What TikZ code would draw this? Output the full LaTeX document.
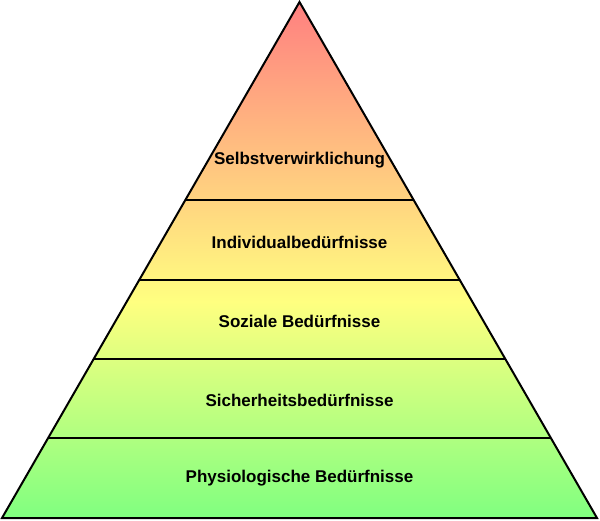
\documentclass[tikz,border=0pt]{standalone}
\usepackage{fontspec}
\setmainfont{Liberation Sans}
\usetikzlibrary{calc, positioning}
\definecolor{spitze}{RGB}{255,128,128}
\definecolor{mitte}{RGB}{255,255,128}
\definecolor{basis}{RGB}{128,255,128}
\pgfdeclareverticalshading{pyramide}{100bp}{%
  color(0bp)=(basis); color(25bp)=(basis); color(46bp)=(mitte);
  color(75bp)=(spitze); color(100bp)=(spitze)}

\begin{document}
\begin{tikzpicture}[x=1pt, y=1pt,%
  outline/.style={line width=2pt, draw=black, line join=miter},%
  level/.style={line width=2pt, draw=black},%
  label/.style={font=\bfseries\fontsize{17}{20}\selectfont, text=black, inner sep=0pt}%
]
  \useasboundingbox (0,0) rectangle (600,520);
  \coordinate (apex) at (299.5,518);
  \coordinate (bl) at (2,2);
  \coordinate (br) at (597,2);
  % Pyramide
  \shade[shading=pyramide] (apex) -- (br) -- (bl) -- cycle;
  % Stufen
  \foreach \t [count=\i] in {0.384,0.539,0.692,0.845} {
    \draw[level] ($(apex)!\t!(bl)$) -- ($(apex)!\t!(br)$);
  }
  \draw[outline] (apex) -- (br) -- (bl) -- cycle;
  % Beschriftungen
  \node[label] (selbst) at (299.5,360) {Selbstverwirklichung};
  \node[label] (indiv) at (299.5,278) {Individualbedürfnisse};
  \node[label] (sozial) at (299.5,199) {Soziale Bedürfnisse};
  \node[label] (sicher) at (299.5,120) {Sicherheitsbedürfnisse};
  \node[label] (physio) at (299.5,42) {Physiologische Bedürfnisse};
\end{tikzpicture}
\end{document}
